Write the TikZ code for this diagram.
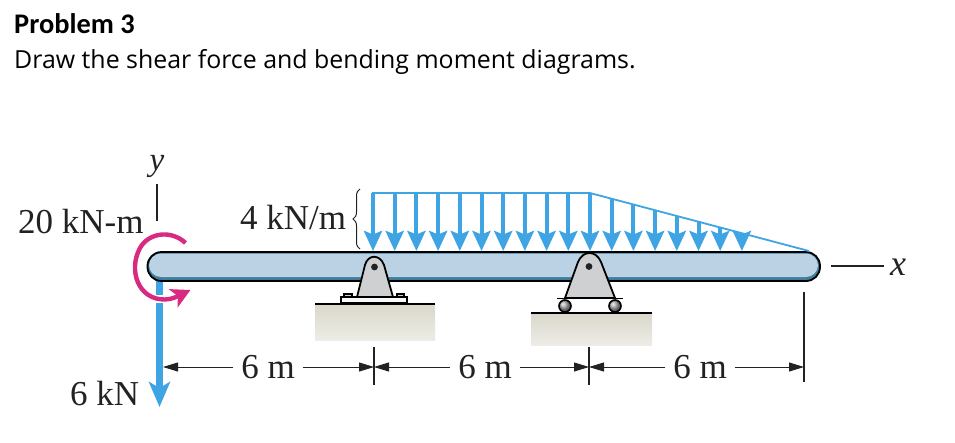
\documentclass[tikz,border=0pt]{standalone}
\usepackage{fontspec}
\setmainfont{Liberation Serif}
\newfontfamily\titlefont{Carlito}
\newfontfamily\bodyfont{Open Sans}
\usetikzlibrary{arrows.meta,decorations.pathreplacing}
\definecolor{loadblue}{HTML}{3FA4E4}
\definecolor{beamblue}{HTML}{BAD2E4}
\definecolor{beamdark}{HTML}{3F7D9C}
\definecolor{moment}{HTML}{D92A82}
\definecolor{pedestal}{HTML}{CFD0D2}
\definecolor{groundtop}{HTML}{DAD8CB}
\definecolor{groundbot}{HTML}{EDECE6}
\definecolor{ink}{HTML}{222222}
\tikzset{
  loadarrow/.style={draw=loadblue,line width=4pt,-{Stealth[length=20pt,width=18pt,inset=3.5pt,fill=loadblue]}},
  loadedge/.style={draw=loadblue,line width=1.8pt},
  lbl/.style={inner sep=0pt,text=ink,font=\fontsize{35}{35}\selectfont},
  dimline/.style={draw=ink,line width=1pt,-{Stealth[length=15pt,width=9pt,inset=0pt]}},
  tick/.style={draw=ink,line width=1.1pt},
  pedestalshape/.style={fill=pedestal,draw=black,line width=1.8pt,line join=round},
  groundfill/.style={top color=groundtop,bottom color=groundbot,draw=none},
  groundline/.style={draw=black,line width=1.8pt},
}
\begin{document}
\begin{tikzpicture}[x=1pt,y=-1pt]
\useasboundingbox (0,0) rectangle (955,442);
\fill[white] (0,0) rectangle (955,442);
% titles
\node[anchor=base west,inner sep=0pt,text=black] (title) at (14,33) {\titlefont\bfseries\fontsize{28.4}{28}\selectfont Problem 3};
\node[anchor=base west,inner sep=0pt,text=black] (sub) at (14,68.5) {\bodyfont\fontsize{24.9}{25}\selectfont Draw the shear force and bending moment diagrams.};
% ground
\fill[groundfill] (315,304) rectangle (435,340);
\fill[groundfill] (531,313) rectangle (652,345);
% 6 kN arrow
\coordinate (fs) at (159.5,281);
\coordinate (fe) at (159.5,407);
\draw[draw=loadblue,line width=7.5pt,-{Stealth[length=25pt,width=21pt,inset=6pt,fill=loadblue]}] (fs) -- (fe);
% beam
\draw[fill=beamdark,draw=none,rounded corners=14pt] (147,252) rectangle (820,281);
\fill[beamblue,rounded corners=12pt] (149,253.5) rectangle (818,277);
\draw[black,line width=1.8pt,rounded corners=14pt] (147.5,252) rectangle (820,281);
% distributed load
\foreach \k in {0,...,17}{
  \pgfmathsetmacro{\xx}{373+21.7*\k}
  \pgfmathsetmacro{\yy}{\xx<590?193:193+(\xx-590)*57/218}
  \coordinate (la\k) at (\xx,\yy);
  \coordinate (lb\k) at (\xx,251);
  \draw[loadarrow] (la\k) -- (lb\k);
}
\coordinate (lt1) at (372,193);
\coordinate (lt2) at (590,193);
\coordinate (lt3) at (809,251);
\draw[loadedge] (lt1) -- (lt2) -- (lt3);
% brace
\coordinate (b1) at (360,249);
\coordinate (b2) at (360,189);
\draw[ink,line width=1pt,decorate,decoration={brace,amplitude=7pt}] (b1) -- (b2);
% fixed support
\fill[pedestal,draw=black,line width=1.5pt] (344,294) rectangle (352,297);
\fill[pedestal,draw=black,line width=1.5pt] (397,294) rectangle (404,297);
\draw[fill=white!85!pedestal,draw=black,line width=1.5pt] (341,297) rectangle (407,303);
\draw[pedestalshape] (357,297) -- (365,265) .. controls (368,254) and (380,254) .. (384,265) -- (393,297) -- cycle;
\fill[ink] (374.5,267) circle (3.4pt);
\draw[groundline] (315,304) -- (435,304);
% roller support
\draw[pedestalshape] (565,298) -- (578,262) .. controls (583,250) and (596,250) .. (601,262) -- (615,298) -- cycle;
\fill[ink] (589,266.5) circle (3.4pt);
\draw[black,line width=1.5pt] (557,298.5) -- (623,298.5);
\foreach \cx/\nm in {565/ra,615/rb}{
  \node[circle,minimum size=12pt,inner sep=0pt,draw=black,line width=1.6pt,ball color=gray!70] (\nm) at (\cx,306) {};
}
\draw[groundline] (531,313) -- (652,313);
% moment
\draw[white,line width=8pt] (150,299) -- (172,299);
\draw[moment,line width=4.4pt,-{Stealth[length=19pt,width=20pt,inset=5pt,fill=moment]}]
  (185.5,243) .. controls (172,230) and (149,232) .. (140,248)
  .. controls (128,270) and (138,300) .. (165,299.5) .. controls (172,299.5) and (178,296) .. (190.5,290);
% axes
\node[lbl,font=\itshape\fontsize{33}{33}\selectfont] (ylab) at (157,166) {y};
\coordinate (y1) at (157,184);
\coordinate (y2) at (157,221);
\draw[ink,line width=1.3pt] (y1) -- (y2);
\node[lbl,font=\itshape\fontsize{36}{36}\selectfont,anchor=base] (xlab) at (898,275) {x};
\coordinate (x1) at (831,266);
\coordinate (x2) at (884,266);
\draw[ink,line width=1.5pt] (x1) -- (x2);
% labels
\node[lbl,anchor=base west] (m20) at (18,233) {20 kN-m};
\node[lbl,anchor=base west] (q4) at (240,229) {4 kN/m};
\node[lbl,anchor=base west] (f6) at (70,405) {6 kN};
% dimensions
\coordinate (d0) at (163,367);
\coordinate (t1) at (374,367);
\coordinate (t2) at (589,367);
\coordinate (t3) at (804,367);
\node[lbl,anchor=base] (d1) at (268,378) {6 m};
\node[lbl,anchor=base] (d2) at (485,378) {6 m};
\node[lbl,anchor=base] (d3) at (700,378) {6 m};
\draw[dimline] (d1.west |- d0) ++(-8,0) -- (d0);
\draw[dimline] (d1.east |- t1) ++(8,0) -- (t1);
\draw[dimline] (d2.west |- t1) ++(-8,0) -- (t1);
\draw[dimline] (d2.east |- t2) ++(8,0) -- (t2);
\draw[dimline] (d3.west |- t2) ++(-8,0) -- (t2);
\draw[dimline] (d3.east |- t3) ++(8,0) -- (t3);
\coordinate (t1a) at (374,347); \coordinate (t1b) at (374,385);
\coordinate (t2a) at (589,347); \coordinate (t2b) at (589,385);
\coordinate (t3a) at (804,292); \coordinate (t3b) at (804,382);
\draw[tick] (t1a) -- (t1b);
\draw[tick] (t2a) -- (t2b);
\draw[tick] (t3a) -- (t3b);
\end{tikzpicture}
\end{document}
